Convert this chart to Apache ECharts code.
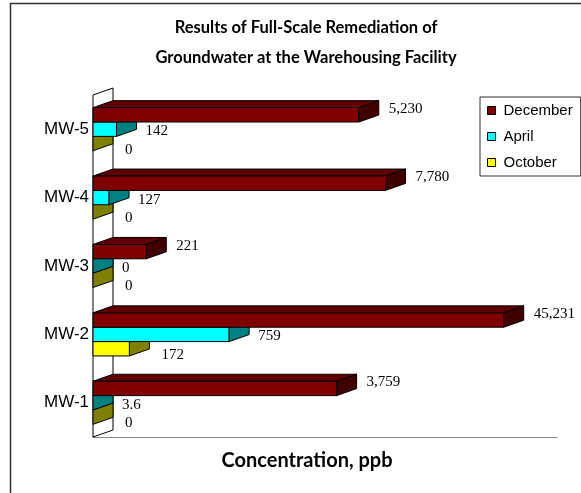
<!DOCTYPE html>
<html>
<head>
<meta charset="utf-8">
<script src="https://cdn.jsdelivr.net/npm/echarts@6/dist/echarts.min.js"></script>
<style>html,body{margin:0;padding:0;background:#fff;}</style>
</head>
<body>
<div id="chart" style="width:581px;height:493px;"></div>
<script>
    // data, bottom to top as in the picture
    var wells = ['MW-1', 'MW-2', 'MW-3', 'MW-4', 'MW-5'];
    var december = [3759, 45231, 221, 7780, 5230];
    var april = [3.6, 759, 0, 127, 142];
    var october = [0, 172, 0, 0, 0];

    var xMin = 100, xMax = 100000;
    var DX = 20, DY = -7; // 3d depth offset

    function fmt(v) {
        return v.toLocaleString('en-US');
    }

    function barRenderer(slot, front, top, side, labelDx, labelDy) {
        return function (params, api) {
            var raw = api.value(0);
            var cat = api.value(1);
            var start = api.coord([xMin, cat]);
            var end = api.coord([Math.max(raw, xMin), cat]);
            var band = api.size([0, 1], [1000, cat])[1];
            var bw = band * 0.21;
            var yT = start[1] - 1.5 * bw + slot * bw;
            var yB = yT + bw;
            var x0 = start[0], x1 = end[0];
            var line = {stroke: '#000', lineWidth: 1};
            var children = [];
            if (raw > xMin) {
                children.push({type: 'polygon', shape: {points: [[x0, yT], [x0 + DX, yT + DY], [x1 + DX, yT + DY], [x1, yT]]},
                    style: Object.assign({fill: top}, line)});
                children.push({type: 'polygon', shape: {points: [[x0, yT], [x1, yT], [x1, yB], [x0, yB]]},
                    style: Object.assign({fill: front}, line)});
            } else {
                x1 = x0;
            }
            children.push({type: 'polygon', shape: {points: [[x1, yT], [x1 + DX, yT + DY], [x1 + DX, yB + DY], [x1, yB]]},
                style: Object.assign({fill: side}, line)});
            children.push({type: 'text', style: {
                text: fmt(raw), x: x1 + DX + labelDx, y: (yT + yB) / 2 + labelDy,
                verticalAlign: 'middle', align: 'left',
                fontFamily: 'Liberation Serif', fontSize: 15, fill: '#000'
            }});
            return {type: 'group', children: children};
        };
    }

    function wallRenderer(params, api) {
        var cs = params.coordSys;
        var x0 = cs.x, yTop = cs.y, yBot = cs.y + cs.height;
        return {
            type: 'polygon',
            shape: {points: [[x0, yBot], [x0, yTop], [x0 + DX, yTop + DY], [x0 + DX, yBot + DY]]},
            style: {fill: '#fff', stroke: '#000', lineWidth: 1}
        };
    }

    function pairs(arr) {
        return arr.map(function (v, i) { return [v, i]; });
    }

    var chart = echarts.init(document.getElementById('chart'));
    var option = {
        animation: false,
        title: [{
            text: 'Results of Full-Scale Remediation of\nGroundwater at the Warehousing Facility',
            left: 301, top: 8, textAlign: 'center',
            textStyle: {fontFamily: 'Lato', fontWeight: 'bold', fontSize: 16.5, lineHeight: 30, color: '#000'}
        }, {
            text: 'Concentration, ppb',
            left: 302, top: 446, textAlign: 'center',
            textStyle: {fontFamily: 'Lato', fontWeight: 'bold', fontSize: 20, color: '#000'}
        }],
        legend: {
            data: [
                {name: 'December', itemStyle: {color: '#800000', borderColor: '#000', borderWidth: 1}},
                {name: 'April', itemStyle: {color: '#00ffff', borderColor: '#000', borderWidth: 1}},
                {name: 'October', itemStyle: {color: '#ffff00', borderColor: '#000', borderWidth: 1}}
            ],
            orient: 'vertical',
            left: 480, top: 97,
            padding: [6, 8, 6, 7],
            itemGap: 11,
            itemWidth: 8, itemHeight: 8,
            icon: 'rect',
            borderColor: '#333', borderWidth: 1,
            textStyle: {fontFamily: 'Liberation Sans', fontSize: 15, color: '#000', padding: [0, 0, 0, 3]}
        },
        graphic: [{
            type: 'rect', left: 8, top: 1, silent: true,
            shape: {width: 700, height: 700},
            style: {fill: 'none', stroke: '#333', lineWidth: 1.5}
        }],
        grid: {left: 93, right: 24, top: 95, bottom: 56},
        xAxis: {
            type: 'log', logBase: 10, min: xMin, max: xMax,
            axisLine: {show: true, lineStyle: {color: '#888', width: 1}},
            axisTick: {show: false},
            axisLabel: {show: false},
            splitLine: {show: false}
        },
        yAxis: {
            type: 'category', data: wells,
            axisLine: {show: false},
            axisTick: {show: false},
            axisLabel: {margin: 4, fontFamily: 'Liberation Sans', fontSize: 17, color: '#000'}
        },
        series: [
            {type: 'custom', name: 'wall', data: [[xMin, 0]], renderItem: wallRenderer, z: 1, silent: true},
            {type: 'custom', name: 'October', data: pairs(october), z: 2,
                itemStyle: {color: '#ffff00'},
                renderItem: barRenderer(2, '#ffff00', '#bfbf00', '#808000', 12, 6)},
            {type: 'custom', name: 'April', data: pairs(april), z: 3,
                itemStyle: {color: '#00ffff'},
                renderItem: barRenderer(1, '#00ffff', '#00bfbf', '#008080', 9, 2)},
            {type: 'custom', name: 'December', data: pairs(december), z: 4,
                itemStyle: {color: '#800000'},
                renderItem: barRenderer(0, '#800000', '#600000', '#400000', 10, -6)}
        ]
    };
    chart.setOption(option);
</script>
</body>
</html>
